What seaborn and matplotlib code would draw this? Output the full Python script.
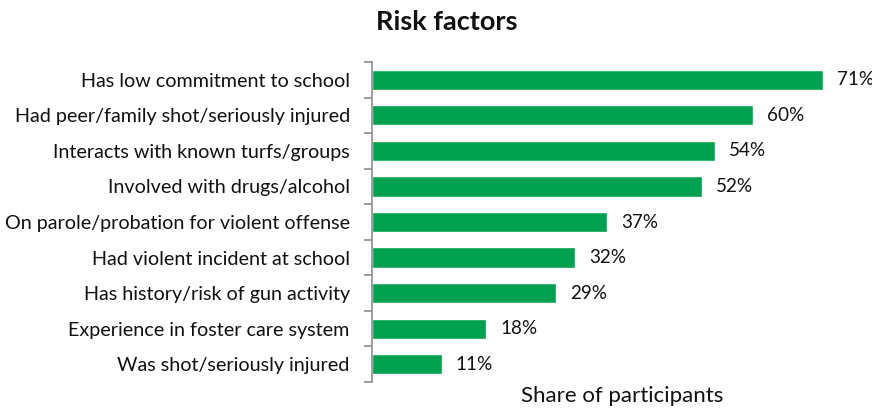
import matplotlib
matplotlib.use("Agg")
import matplotlib.pyplot as plt
import seaborn as sns
import numpy as np
import pandas as pd

categories = [
    "Has low commitment to school",
    "Had peer/family shot/seriously injured",
    "Interacts with known turfs/groups",
    "Involved with drugs/alcohol",
    "On parole/probation for violent offense",
    "Had violent incident at school",
    "Has history/risk of gun activity",
    "Experience in foster care system",
    "Was shot/seriously injured",
]
values = [71, 60, 54, 52, 37, 32, 29, 18, 11]
value_labels = ["71%", "60%", "54%", "52%", "37%", "32%", "29%", "18%", "11%"]

sns.set_theme(style="white")
plt.rcParams["font.family"] = ["Lato", "DejaVu Sans"]

df = pd.DataFrame({"factor": categories, "share": values})

fig = plt.figure(figsize=(8.72, 4.11), dpi=100)
ax = fig.add_axes([372/872, 29/411, 500/872, 320/411])
sns.barplot(data=df, x="share", y="factor", color="#00A04E", saturation=1,
            width=0.57, ax=ax, orient="h")

ax.set_xlim(0, 78.8)
ax.set_ylim(len(categories) - 0.5, -0.5)
ax.set_xticks([])
ax.set_ylabel("")
ax.set_xlabel("Share of participants", fontsize=16, color="#111111", labelpad=3)
for s in ["top", "right", "bottom"]:
    ax.spines[s].set_visible(False)
ax.spines["left"].set_color("#8c8c8c")
ax.spines["left"].set_linewidth(1.2)

ax.set_yticks(range(len(categories)))
ax.set_yticklabels(categories, fontsize=14.2, color="#111111")
ax.tick_params(axis="y", which="major", left=False, length=0, pad=16)
ax.set_yticks(np.arange(-0.5, len(categories), 1.0), minor=True)
ax.tick_params(axis="y", which="minor", left=True, length=6, width=1.2,
               color="#8c8c8c", direction="out")

for i, (v, lab) in enumerate(zip(values, value_labels)):
    ax.annotate(lab, xy=(v, i), xytext=(14, 0), textcoords="offset pixels",
                va="center", ha="left", fontsize=13.6, color="#111111",
                annotation_clip=False)

fig.suptitle("Risk factors", x=447/872, y=0.975, fontsize=19.5, fontweight="bold",
             color="#111111")

fig.savefig("out.png", dpi=100)
